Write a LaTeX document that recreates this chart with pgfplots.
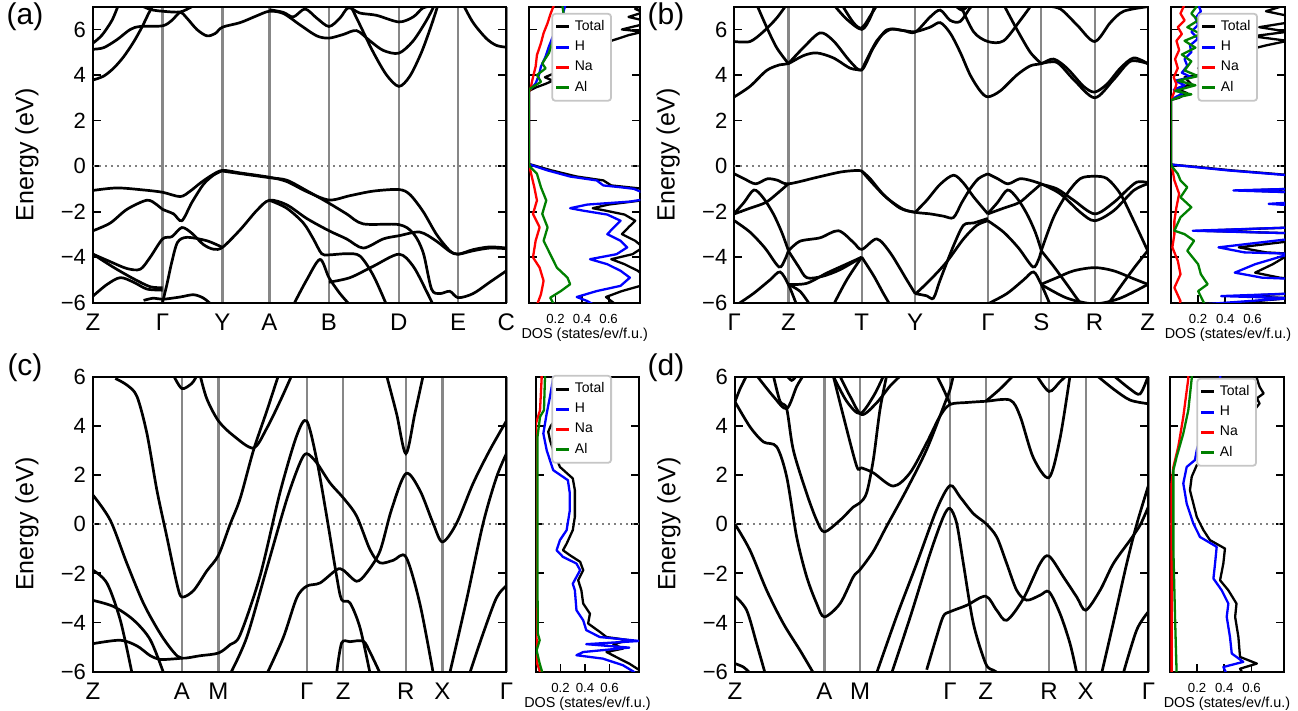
\documentclass[border=0pt]{standalone}
\usepackage{fontspec}
\setmainfont{Liberation Sans}
\usepackage{pgfplots}
\pgfplotsset{compat=1.18}
\definecolor{dgreen}{RGB}{0,128,0}
\definecolor{gridgray}{RGB}{135,135,135}
\pgfplotsset{
  common/.style={scale only axis, anchor=south west, tick align=inside, major tick length=4pt,
    every tick/.append style={black, line width=0.9pt}, axis line style={line width=1pt},
    ytick={-6,-4,-2,0,2,4,6}},
  bandax/.style={common, width=206.7pt, xtick style={draw=none}, xmajorgrids,
    major grid style={gridgray, line width=1.15pt},
    yticklabels={−6,−4,−2,0,2,4,6},
    yticklabel style={font=\fontsize{11}{13}\selectfont},
    xticklabel style={font=\fontsize{12}{14}\selectfont, yshift=-2pt},
    ylabel={Energy (eV)},
    ylabel style={font=\fontsize{12.5}{14}\selectfont, at={(axis description cs:-0.16,0.5)}, anchor=center}},
  dosax/.style={common, xmin=0, xmax=0.84, xtick={0.2,0.4,0.6}, xticklabels={0.2,0.4,0.6},
    xtick pos=left, yticklabels={},
    xticklabel style={font=\fontsize{6.6}{7.5}\selectfont, yshift=-2.3pt},
    xlabel={DOS (states/ev/f.u.)},
    xlabel style={font=\fontsize{7.2}{8}\selectfont, at={(axis description cs:0.5,0)}, anchor=center, yshift=-16pt},
    legend cell align=left,
    legend style={draw=gray!45, line width=0.9pt, rounded corners=1.5pt, fill=white,
      font=\fontsize{7}{8}\selectfont, inner sep=1.3pt, row sep=-0.3pt, anchor=north east},
    legend image code/.code={\draw[#1, line width=1.5pt] (0pt,0pt) -- (6.5pt,0pt);}},
  band/.style={black, line width=1.35pt, smooth, mark=none},
  dos/.style={line width=1.15pt, mark=none, line join=round},
  zero/.style={gray, line width=1pt, dash pattern=on 1pt off 2pt},
}
\begin{document}
\begin{tikzpicture}
\path[use as bounding box] (0,0) rectangle (649pt,355.5pt);
\node[font=\fontsize{15}{17}\selectfont] at (12.5pt,347pt) {(a)};
\node[font=\fontsize{15}{17}\selectfont] at (333pt,347pt) {(b)};
\node[font=\fontsize{15}{17}\selectfont] at (12.5pt,171.5pt) {(c)};
\node[font=\fontsize{15}{17}\selectfont] at (333pt,171.5pt) {(d)};

% ---------------- (a) bands
\begin{axis}[bandax, at={(46.5pt,204.15pt)}, height=148pt, xmin=278, xmax=1520, ymin=-6, ymax=7,
  xtick={278,487,667,808,987,1197,1375,1520}, xticklabels={Z,Γ,Y,A,B,D,E,C}]
\addplot[zero] coordinates {(278,0) (1520,0)};
\addplot[band] coordinates {(278,3.78) (310,3.95) (340,4.3) (370,4.8) (400,5.45) (425,6.1) (445,6.7) (460,7.1)};
\addplot[band] coordinates {(278,5.13) (310,5.2) (350,5.55) (390,6.0) (420,6.13) (487,6.16) (515,6.4) (540,6.75) (560,6.5) (590,6.0) (620,5.72) (645,5.82) (667,6.1) (720,6.3) (770,6.6) (808,6.8) (850,6.7) (900,6.2) (950,5.72) (987,5.62) (1030,5.78) (1070,5.95) (1110,5.5) (1150,5.08) (1197,4.96) (1240,5.5) (1280,6.4) (1305,7.1)};
\addplot[band] coordinates {(278,5.4) (305,5.75) (335,6.4) (355,7.1)};
\addplot[band] coordinates {(415,7.1) (450,6.88) (487,6.8) (540,6.77) (575,7.0) (595,7.1)};
\addplot[band] coordinates {(808,6.87) (850,6.75) (880,6.55) (915,6.9) (950,6.5) (987,6.13) (1020,6.5) (1045,6.95) (1080,6.72) (1130,6.62) (1197,6.33) (1240,6.55) (1270,6.95) (1300,7.02) (1375,7.03)};
\addplot[band] coordinates {(1050,7.1) (1080,6.2) (1120,5.0) (1160,4.0) (1197,3.5) (1230,3.95) (1265,5.0) (1295,6.2) (1315,7.1)};
\addplot[band] coordinates {(1390,7.1) (1420,6.3) (1460,5.6) (1490,5.3) (1520,5.22)};
\addplot[band] coordinates {(278,-1.07) (350,-0.96) (430,-1.05) (487,-1.15) (540,-1.34) (570,-1.1) (600,-0.75) (635,-0.4) (667,-0.19) (720,-0.3) (808,-0.49) (860,-0.68) (920,-1.12) (987,-1.49) (1050,-1.3) (1120,-1.1) (1197,-1.03) (1230,-1.25) (1270,-2.0) (1310,-3.0) (1350,-3.72) (1375,-3.87) (1420,-3.67) (1470,-3.55) (1520,-3.6)};
\addplot[band] coordinates {(667,-0.22) (720,-0.33) (808,-0.51) (860,-0.62) (920,-1.08) (987,-1.63) (1040,-2.1) (1090,-2.54) (1197,-2.57) (1240,-2.95) (1270,-3.8) (1295,-5.4) (1320,-5.6) (1350,-5.5) (1375,-5.78) (1420,-5.6) (1470,-5.1) (1520,-4.6)};
\addplot[band] coordinates {(278,-2.84) (330,-2.5) (380,-1.9) (440,-1.5) (470,-1.7) (487,-1.9) (520,-2.1) (545,-2.4) (575,-1.6) (610,-0.8) (640,-0.4) (667,-0.2)};
\addplot[band] coordinates {(278,-3.87) (330,-4.2) (380,-4.5) (420,-4.53) (450,-4.0) (487,-3.2) (515,-3.1) (545,-2.7) (575,-2.95) (610,-3.45) (640,-3.65) (667,-3.57) (720,-2.8) (770,-1.95) (808,-1.5) (860,-1.7) (920,-2.3) (987,-2.84) (1040,-3.2) (1090,-3.6) (1150,-3.2) (1197,-3.06) (1260,-2.9) (1310,-3.3) (1350,-3.75) (1375,-3.87) (1420,-3.72) (1470,-3.6) (1520,-3.63)};
\addplot[band] coordinates {(485,-6.1) (500,-5.2) (515,-4.2) (532,-3.35) (560,-3.13) (620,-3.28) (667,-3.57)};
\addplot[band] coordinates {(278,-3.87) (340,-4.45) (400,-4.95) (450,-5.3) (487,-5.34)};
\addplot[band] coordinates {(278,-5.71) (320,-5.2) (360,-4.9) (400,-5.1) (440,-5.4) (487,-5.45)};
\addplot[band] coordinates {(430,-5.9) (460,-5.8) (487,-5.85) (540,-5.75) (580,-5.65) (610,-5.8) (635,-6.1)};
\addplot[band] coordinates {(880,-6.1) (920,-5.0) (960,-4.1) (987,-4.9) (1020,-5.6) (1050,-6.1)};
\addplot[band] coordinates {(987,-5.1) (1050,-4.9) (1120,-4.4) (1197,-3.87) (1240,-4.4) (1280,-5.5) (1300,-6.1)};
\addplot[band] coordinates {(808,-1.5) (860,-1.85) (910,-2.5) (940,-3.2) (965,-3.85) (987,-3.9) (1040,-3.85) (1080,-3.95) (1120,-4.8) (1160,-6.1)};
\end{axis}

% ---------------- (a) DOS
\begin{axis}[dosax, at={(264.5pt,204.15pt)}, width=55.75pt, height=148pt, ymin=-6, ymax=7,
  legend style={at={(0.744,0.979)}}]
\addplot[zero, forget plot] coordinates {(0,0) (0.84,0)};
\addplot[dos, black] coordinates {(0.86,7.1) (0.8,6.9) (0.86,6.75) (0.75,6.55) (0.86,6.4) (0.84,6.2) (0.7,6.0) (0.86,5.9) (0.75,5.75) (0.62,5.5) (0.5,5.2) (0.4,4.8) (0.3,4.4) (0.2,4.1) (0.12,3.9) (0.18,3.75) (0.12,3.6) (0.05,3.45) (0,3.3) (0,0.1) (0.02,0.06) (0.17,-0.19) (0.36,-0.46) (0.56,-0.63) (0.62,-0.85) (0.75,-0.93) (0.86,-1.0) (0.86,-1.5) (0.6,-1.69) (0.48,-1.85) (0.58,-1.96) (0.72,-2.13) (0.8,-2.4) (0.75,-2.69) (0.7,-2.99) (0.8,-3.28) (0.86,-3.57) (0.78,-3.87) (0.62,-4.09) (0.72,-4.31) (0.82,-4.6) (0.88,-4.9) (0.84,-5.26) (0.7,-5.49) (0.58,-5.75) (0.62,-5.93) (0.66,-6.1)};
\addlegendentry{Total}
\addplot[dos, blue] coordinates {(0.275,7.1) (0.25,6.57) (0.21,6.13) (0.175,5.62) (0.15,5.25) (0.125,4.81) (0.09,4.37) (0.075,4.0) (0.05,3.63) (0.01,3.37) (0,3.3) (0,0.1) (0.01,0.06) (0.14,-0.19) (0.31,-0.46) (0.51,-0.63) (0.56,-0.85) (0.69,-0.93) (0.79,-1.0) (0.88,-1.22) (0.88,-1.45) (0.76,-1.56) (0.44,-1.69) (0.31,-1.85) (0.41,-1.96) (0.59,-2.13) (0.69,-2.4) (0.64,-2.69) (0.59,-2.99) (0.69,-3.28) (0.74,-3.57) (0.66,-3.87) (0.46,-4.09) (0.59,-4.31) (0.69,-4.6) (0.76,-4.9) (0.69,-5.26) (0.51,-5.49) (0.36,-5.75) (0.44,-5.93) (0.49,-6.1)};
\addlegendentry{H}
\addplot[dos, red] coordinates {(0.19,7.1) (0.16,6.65) (0.14,6.28) (0.11,5.84) (0.09,5.4) (0.06,4.88) (0.05,4.37) (0.025,3.78) (0.01,3.34) (0,3.3) (0,0.1) (0.01,-0.19) (0.04,-0.93) (0.06,-1.51) (0.03,-2.10) (0.08,-2.69) (0.05,-3.28) (0.03,-4.01) (0.08,-4.46) (0.11,-5.04) (0.09,-5.63) (0.06,-6.1)};
\addlegendentry{Na}
\addplot[dos, dgreen] coordinates {(0.25,7.1) (0.26,6.72) (0.24,6.28) (0.21,5.84) (0.175,5.4) (0.15,4.96) (0.1,4.51) (0.125,4.29) (0.06,4.0) (0.09,3.7) (0.01,3.41) (0,3.3) (0,0.1) (0.01,-0.04) (0.06,-0.34) (0.09,-0.93) (0.13,-1.51) (0.10,-2.10) (0.14,-2.69) (0.11,-3.28) (0.16,-3.87) (0.21,-4.46) (0.29,-4.90) (0.31,-5.19) (0.24,-5.49) (0.16,-5.78) (0.19,-6.1)};
\addlegendentry{Al}
\end{axis}

% ---------------- (b) bands
\begin{axis}[bandax, at={(367.15pt,204.15pt)}, height=148pt, xmin=283, xmax=1522, ymin=-6, ymax=7,
  xtick={283,445,665,825,1043,1203,1363,1522}, xticklabels={Γ,Z,T,Y,Γ,S,R,Z}]
\addplot[zero] coordinates {(283,0) (1522,0)};
\addplot[band] coordinates {(283,3.04) (330,3.5) (380,4.2) (420,4.45) (445,4.5) (490,4.85) (530,4.97) (580,4.75) (630,4.3) (665,4.22)};
\addplot[band] coordinates {(445,4.5) (490,5.2) (540,5.85) (580,5.5) (630,4.6) (665,4.22) (700,5.2) (740,5.98) (790,5.95) (825,5.9) (870,6.1) (900,6.3) (930,5.84) (960,5.0) (990,4.0) (1020,3.3) (1043,3.04) (1080,3.3) (1130,4.0) (1170,4.4) (1203,4.5) (1240,4.7) (1280,4.3) (1330,3.5) (1363,3.25) (1400,3.6) (1440,4.3) (1480,4.75) (1522,4.5)};
\addplot[band] coordinates {(665,4.22) (710,5.5) (750,6.0) (790,5.95) (825,5.88) (870,6.55) (900,6.85) (930,6.4) (960,6.35) (990,6.95) (1005,7.1)};
\addplot[band] coordinates {(1203,4.5) (1250,4.55) (1300,3.8) (1363,3.0) (1420,3.8) (1470,4.6) (1522,4.5)};
\addplot[band] coordinates {(283,5.47) (330,5.47) (370,5.9) (410,6.5) (440,7.1)};
\addplot[band] coordinates {(350,7.1) (380,6.1) (410,5.2) (445,4.5)};
\addplot[band] coordinates {(580,7.1) (620,6.45) (665,6.0) (690,6.5) (705,7.1)};
\addplot[band] coordinates {(605,7.1) (640,6.3) (665,6.07) (695,6.7) (712,7.1)};
\addplot[band] coordinates {(960,7.1) (1000,5.9) (1043,5.47) (1090,5.5) (1140,6.4) (1175,7.1)};
\addplot[band] coordinates {(1090,7.1) (1130,6.0) (1170,5.0) (1203,4.5)};
\addplot[band] coordinates {(1210,7.05) (1260,6.9) (1310,6.2) (1363,5.47) (1410,6.3) (1450,6.8) (1522,7.0)};
\addplot[band] coordinates {(945,7.05) (965,6.85) (985,7.05)};
\addplot[band] coordinates {(283,-0.34) (313,-0.56) (347,-0.78) (382,-0.56) (412,-0.62) (445,-0.78) (532,-0.49) (602,-0.26) (652,-0.19) (665,-0.22)};
\addplot[band] coordinates {(283,-2.08) (312,-1.6) (342,-1.05) (370,-1.4) (400,-2.1) (425,-2.9) (445,-3.7)};
\addplot[band] coordinates {(283,-2.1) (330,-1.85) (377,-1.6) (412,-1.2) (445,-0.78)};
\addplot[band] coordinates {(283,-2.4) (330,-2.9) (375,-3.6) (417,-4.43) (435,-4.1) (445,-3.72)};
\addplot[band] coordinates {(445,-3.72) (480,-3.3) (540,-3.15) (595,-2.84) (640,-3.35) (665,-3.66) (710,-3.2) (750,-3.8) (800,-5.0) (825,-5.6)};
\addplot[band] coordinates {(445,-3.72) (475,-4.4) (500,-4.9) (545,-4.85) (600,-4.55) (665,-4.0)};
\addplot[band] coordinates {(665,-4.0) (700,-4.8) (730,-5.6) (750,-6.1)};
\addplot[band] coordinates {(580,-6.1) (620,-5.0) (665,-4.0)};
\addplot[band] coordinates {(445,-5.2) (500,-5.15) (560,-4.7) (620,-4.3) (665,-4.0)};
\addplot[band] coordinates {(445,-5.2) (480,-5.5) (510,-6.1)};
\addplot[band] coordinates {(290,-6.1) (340,-5.6) (390,-5.0) (420,-4.65) (445,-5.2) (470,-6.1)};
\addplot[band] coordinates {(825,-2.03) (860,-1.5) (900,-0.8) (940,-0.4) (970,-0.75) (1000,-1.35) (1043,-2.1)};
\addplot[band] coordinates {(665,-0.22) (700,-0.8) (740,-1.4) (790,-1.9) (825,-2.03)};
\addplot[band] coordinates {(665,-0.22) (690,-0.55) (730,-1.25) (780,-1.85) (825,-2.03) (870,-2.1) (910,-2.2) (940,-2.26) (965,-1.6) (990,-1.0) (1015,-0.55) (1043,-0.34)};
\addplot[band] coordinates {(825,-5.6) (860,-5.7) (880,-5.8) (900,-5.0) (940,-3.5) (970,-2.6) (1000,-2.5) (1043,-2.3)};
\addplot[band] coordinates {(825,-5.63) (870,-5.0) (920,-4.2) (970,-3.2) (1010,-2.6) (1043,-2.4)};
\addplot[band] coordinates {(1043,-0.34) (1073,-0.56) (1103,-0.78) (1138,-0.56) (1168,-0.62) (1203,-0.78)};
\addplot[band] coordinates {(1043,-2.08) (1072,-1.6) (1102,-1.05) (1130,-1.4) (1160,-2.1) (1185,-2.9) (1203,-3.7)};
\addplot[band] coordinates {(1043,-2.1) (1090,-1.85) (1137,-1.6) (1170,-1.2) (1203,-0.78)};
\addplot[band] coordinates {(1043,-2.4) (1090,-2.9) (1135,-3.6) (1178,-4.43) (1195,-4.1) (1203,-3.72)};
\addplot[band] coordinates {(1043,-6.05) (1100,-5.6) (1150,-5.0) (1180,-4.65) (1203,-5.2) (1230,-6.1)};
\addplot[band] coordinates {(1203,-3.72) (1240,-2.25) (1280,-1.22) (1320,-0.55) (1363,-0.45) (1400,-0.55) (1440,-1.22) (1480,-2.4) (1522,-3.72)};
\addplot[band] coordinates {(1203,-0.78) (1260,-1.22) (1320,-2.03) (1363,-2.4) (1420,-1.96) (1480,-1.07) (1522,-0.78)};
\addplot[band] coordinates {(1203,-0.8) (1250,-1.0) (1300,-1.5) (1363,-2.1) (1420,-1.6) (1460,-1.05) (1490,-0.7) (1522,-0.72)};
\addplot[band] coordinates {(1203,-5.19) (1250,-4.9) (1300,-4.6) (1363,-4.46) (1420,-4.6) (1480,-4.95) (1522,-5.19)};
\addplot[band] coordinates {(1203,-3.72) (1240,-4.4) (1280,-5.2) (1320,-6.0) (1340,-6.1)};
\addplot[band] coordinates {(1522,-3.72) (1485,-4.4) (1445,-5.2) (1405,-6.0) (1385,-6.1)};
\addplot[band] coordinates {(1203,-5.2) (1280,-5.8) (1363,-6.05) (1440,-5.8) (1522,-5.2)};
\end{axis}

% ---------------- (b) DOS
\begin{axis}[dosax, at={(585.5pt,204.15pt)}, width=57pt, height=148pt, ymin=-6, ymax=7,
  legend style={at={(0.763,0.979)}}]
\addplot[zero, forget plot] coordinates {(0,0) (0.84,0)};
\addplot[dos, black] coordinates {(0.86,7.1) (0.7,6.8) (0.86,6.6) (0.86,6.3) (0.65,6.1) (0.86,5.9) (0.6,5.7) (0.86,5.5) (0.7,5.3) (0.5,5.0) (0.4,4.6) (0.2,4.3) (0.3,4.1) (0.1,3.9) (0.15,3.6) (0.04,3.4) (0.12,3.2) (0.06,3.0) (0,2.9) (0,0.1) (0.01,0.06) (0.2,-0.04) (0.45,-0.19) (0.7,-0.31) (0.88,-0.4) (0.88,-1.0) (0.55,-1.07) (0.88,-1.15) (0.88,-1.6) (0.78,-1.66) (0.88,-1.72) (0.88,-2.7) (0.22,-2.84) (0.88,-2.95) (0.88,-3.3) (0.5,-3.57) (0.7,-3.79) (0.88,-3.85) (0.75,-4.31) (0.62,-4.68) (0.8,-4.9) (0.88,-4.95) (0.88,-5.6) (0.5,-5.71) (0.88,-5.8) (0.3,-6.1)};
\addlegendentry{Total}
\addplot[dos, blue] coordinates {(0.2,7.1) (0.22,6.8) (0.18,6.5) (0.2,6.2) (0.15,5.9) (0.2,5.6) (0.14,5.3) (0.15,5.0) (0.1,4.7) (0.12,4.4) (0.08,4.1) (0.15,3.9) (0.03,3.75) (0.1,3.55) (0.02,3.35) (0.09,3.2) (0.04,3.05) (0,2.9) (0,0.1) (0.01,0.06) (0.17,-0.04) (0.42,-0.19) (0.67,-0.31) (0.88,-0.41) (0.88,-1.0) (0.46,-1.07) (0.88,-1.15) (0.88,-1.6) (0.72,-1.66) (0.88,-1.72) (0.88,-2.7) (0.16,-2.84) (0.88,-2.95) (0.88,-3.2) (0.35,-3.57) (0.54,-3.79) (0.88,-3.85) (0.62,-4.31) (0.47,-4.68) (0.67,-4.9) (0.88,-4.95) (0.88,-5.6) (0.37,-5.71) (0.88,-5.8) (0.17,-6.1)};
\addlegendentry{H}
\addplot[dos, red] coordinates {(0.1,7.1) (0.07,6.7) (0.1,6.4) (0.05,6.1) (0.08,5.8) (0.04,5.5) (0.06,5.1) (0.03,4.7) (0.05,4.3) (0.02,3.9) (0.04,3.6) (0.02,3.2) (0,2.9) (0,0.1) (0.01,-0.12) (0.025,-0.63) (0.06,-1.22) (0.04,-1.81) (0.025,-2.4) (0.025,-2.99) (0.01,-3.57) (0.05,-4.16) (0.07,-4.75) (0.025,-5.34) (0.07,-5.93) (0.06,-6.1)};
\addlegendentry{Na}
\addplot[dos, dgreen] coordinates {(0.2,7.1) (0.15,6.7) (0.2,6.4) (0.12,6.1) (0.22,5.8) (0.1,5.5) (0.18,5.2) (0.08,4.9) (0.15,4.6) (0.1,4.2) (0.2,3.95) (0.05,3.75) (0.18,3.55) (0.03,3.3) (0.15,3.15) (0.07,3.05) (0,2.9) (0,0.1) (0.01,-0.04) (0.05,-0.34) (0.07,-0.63) (0.12,-0.93) (0.07,-1.37) (0.15,-1.81) (0.07,-2.25) (0.025,-2.84) (0.1,-2.99) (0.17,-3.28) (0.12,-3.72) (0.2,-4.31) (0.22,-4.75) (0.27,-5.19) (0.2,-5.49) (0.25,-6.1)};
\addlegendentry{Al}
\end{axis}

% ---------------- (c) bands
\begin{axis}[bandax, at={(46.5pt,19.65pt)}, height=147.5pt, xmin=278, xmax=1520, ymin=-6, ymax=6,
  xtick={278,545,655,920,1030,1218,1328,1520}, xticklabels={Z,A,M,Γ,Z,R,X,Γ}]
\addplot[zero] coordinates {(278,0) (1520,0)};
\addplot[band] coordinates {(278,1.18) (330,0.16) (380,-1.6) (430,-3.23) (480,-4.45) (520,-5.2) (545,-5.45) (600,-5.35) (655,-5.24) (690,-4.9) (720,-4.5) (780,-2.1) (840,1.3) (890,3.6) (920,4.2) (950,2.63) (980,0.33) (1010,-2.12) (1025,-3.07) (1050,-3.2) (1080,-4.2) (1110,-6.05)};
\addplot[band] coordinates {(345,5.93) (380,5.66) (410,5.2) (440,3.69) (470,1.38) (500,-0.52) (530,-2.42) (545,-2.96) (580,-2.7) (620,-1.9) (655,-1.26) (690,0) (720,1.04) (760,3.0) (800,4.6) (835,6.05)};
\addplot[band] coordinates {(520,6.05) (545,5.52) (575,5.73) (590,6.05)};
\addplot[band] coordinates {(600,6.05) (620,5.1) (655,4.2) (700,3.6) (760,3.1) (800,3.9) (840,5.0) (875,6.05)};
\addplot[band] coordinates {(690,-6.1) (740,-4.6) (800,-1.8) (860,1.0) (900,2.5) (920,2.87) (950,2.5) (990,1.68) (1030,1.07) (1070,0.33) (1110,-1.03) (1140,-1.57) (1180,-1.47) (1218,-1.33) (1260,-3.23) (1300,-6.05)};
\addplot[band] coordinates {(800,-6.1) (850,-4.6) (890,-3.0) (920,-2.52) (960,-2.39) (1010,-1.85) (1030,-1.87) (1070,-2.32) (1100,-1.98) (1140,-1.1) (1175,0.6) (1218,2.06) (1260,1.38) (1300,0.03) (1328,-0.72) (1370,0.03) (1420,1.66) (1470,3.01) (1520,4.2)};
\addplot[band] coordinates {(1010,-6.05) (1025,-4.83) (1050,-4.78) (1090,-4.76) (1110,-5.2) (1140,-6.05)};
\addplot[band] coordinates {(1160,6.05) (1190,4.5) (1218,2.87) (1245,4.5) (1270,6.05)};
\addplot[band] coordinates {(1350,-6.05) (1400,-3.1) (1450,0.03) (1490,1.9) (1520,2.87)};
\addplot[band] coordinates {(1410,-6.05) (1450,-4.45) (1490,-3.0) (1520,-2.5)};
\addplot[band] coordinates {(278,-1.87) (320,-2.4) (360,-3.9) (395,-6.05)};
\addplot[band] coordinates {(278,-3.1) (340,-3.35) (400,-3.9) (450,-4.7) (490,-6.05)};
\addplot[band] coordinates {(278,-4.86) (360,-4.72) (410,-4.95) (450,-5.35) (480,-5.5) (520,-5.48) (545,-5.45)};
\end{axis}

% ---------------- (c) DOS
\begin{axis}[dosax, at={(268pt,19.65pt)}, width=51.5pt, height=147.5pt, ymin=-6, ymax=6,
  legend style={at={(0.738,1.006)}}]
\addplot[zero, forget plot] coordinates {(0,0) (0.84,0)};
\addplot[dos, black] coordinates {(0.5,6.1) (0.4,5.5) (0.3,5.0) (0.2,4.5) (0.12,4.0) (0.10,3.76) (0.114,3.42) (0.14,3.01) (0.195,2.33) (0.30,1.86) (0.317,1.38) (0.317,0.3) (0.30,-0.24) (0.25,-0.79) (0.22,-1.06) (0.276,-1.26) (0.36,-1.53) (0.385,-1.87) (0.344,-2.28) (0.37,-2.69) (0.385,-3.23) (0.44,-3.64) (0.425,-4.04) (0.52,-4.38) (0.575,-4.59) (0.76,-4.72) (0.63,-4.88) (0.71,-5.06) (0.575,-5.2) (0.68,-5.47) (0.76,-5.67) (0.845,-5.94) (0.86,-6.1)};
\addlegendentry{Total}
\addplot[dos, blue] coordinates {(0.14,6.1) (0.14,5.93) (0.114,5.18) (0.087,4.5) (0.06,3.69) (0.087,3.01) (0.14,2.2) (0.26,1.79) (0.276,1.25) (0.276,0.57) (0.25,-0.24) (0.195,-0.65) (0.168,-1.06) (0.22,-1.33) (0.33,-1.6) (0.36,-1.87) (0.30,-2.42) (0.317,-2.69) (0.33,-3.50) (0.385,-3.91) (0.41,-4.31) (0.52,-4.59) (0.845,-4.75) (0.41,-4.88) (0.76,-5.02) (0.385,-5.2) (0.33,-5.33) (0.547,-5.47) (0.71,-5.74) (0.80,-6.01) (0.81,-6.1)};
\addlegendentry{H}
\addplot[dos, red] coordinates {(0.046,6.1) (0.046,5.93) (0.033,4.64) (0.0,4.1) (0.0,-4.5) (0.01,-4.86) (0.0,-5.26) (0.01,-5.67) (0.033,-6.01) (0.035,-6.1)};
\addlegendentry{Na}
\addplot[dos, dgreen] coordinates {(0.073,6.1) (0.073,5.93) (0.065,4.64) (0.033,4.37) (0.012,3.55) (0.012,1.66) (0.012,-2.42) (0.015,-4.45) (0.03,-4.72) (0.005,-5.13) (0.03,-5.67) (0.05,-6.01) (0.052,-6.1)};
\addlegendentry{Al}
\end{axis}

% ---------------- (d) bands
\begin{axis}[bandax, at={(367.5pt,19.65pt)}, height=147.5pt, xmin=285, xmax=1525, ymin=-6, ymax=6,
  xtick={285,553,660,930,1037,1227,1337,1525}, xticklabels={Z,A,M,Γ,Z,R,X,Γ}]
\addplot[zero] coordinates {(285,0) (1525,0)};
\addplot[band] coordinates {(285,0) (330,-1.06) (380,-2.69) (430,-4.04) (480,-5.13) (520,-6.05)};
\addplot[band] coordinates {(285,4.98) (330,3.96) (370,3.35) (410,3.15) (440,1.93) (470,-0.52) (500,-2.14) (530,-3.23) (553,-3.77) (600,-3.23) (640,-2.14) (660,-1.85) (700,-1.1) (740,-0.08) (800,1.41) (860,3.04) (915,4.94) (930,5.48) (940,6.05)};
\addplot[band] coordinates {(285,4.98) (300,5.5) (320,6.05)};
\addplot[band] coordinates {(350,6.05) (400,5.2) (440,4.7) (470,5.6) (490,6.05)};
\addplot[band] coordinates {(400,6.05) (420,5.0) (440,4.7) (460,3.01) (500,1.25) (530,0.16) (553,-0.31) (600,0.16) (640,0.7) (660,0.87) (680,1.28) (700,2.63) (720,4.67) (740,6.05)};
\addplot[band] coordinates {(440,6.05) (455,5.85) (470,6.05)};
\addplot[band] coordinates {(580,6.02) (610,4.4) (650,2.36) (665,2.29) (700,2.09) (760,1.55) (810,2.09) (860,3.31) (900,4.40) (930,4.87) (980,4.95) (1037,5.0) (1110,5.05) (1140,4.4) (1180,2.7) (1227,1.9) (1260,3.5) (1290,6.05)};
\addplot[band] coordinates {(600,6.02) (630,5.21) (665,4.46) (710,4.94) (750,5.62) (780,6.02)};
\addplot[band] coordinates {(580,6.02) (620,5.0) (660,4.5) (700,5.2) (730,6.02)};
\addplot[band] coordinates {(710,-6.05) (770,-3.74) (830,-1.6) (890,0.6) (930,1.57) (960,1.11) (1000,0.43) (1037,0.03) (1070,-0.52) (1100,-1.6) (1130,-2.69) (1160,-3.09) (1200,-2.89) (1227,-2.75) (1260,-3.64) (1290,-4.86) (1310,-6.05)};
\addplot[band] coordinates {(755,-6.05) (810,-3.8) (870,-1.2) (910,0.3) (930,0.64) (950,0.03) (970,-1.6) (1000,-4.04) (1037,-5.67) (1060,-5.94) (1075,-6.05)};
\addplot[band] coordinates {(860,-5.92) (890,-4.56) (910,-3.74) (930,-3.56) (980,-3.30) (1037,-2.93) (1070,-3.5) (1100,-3.91) (1150,-3.03) (1200,-1.6) (1227,-1.3) (1270,-2.14) (1310,-2.96) (1337,-3.5) (1380,-2.69) (1420,-1.6) (1470,-0.65) (1500,-0.04) (1525,0.71)};
\addplot[band] coordinates {(1385,-6.05) (1420,-4.0) (1460,-1.6) (1490,0.0) (1525,1.57)};
\addplot[band] coordinates {(1450,-6.05) (1490,-4.3) (1525,-3.56)};
\addplot[band] coordinates {(1370,6.05) (1420,5.5) (1470,5.05) (1525,4.9)};
\addplot[band] coordinates {(1420,6.05) (1470,5.5) (1500,5.3) (1525,6.05)};
\addplot[band] coordinates {(1190,6.05) (1227,5.4) (1260,5.8) (1280,6.05)};
\addplot[band] coordinates {(1037,5.0) (1080,5.5) (1120,6.05)};
\addplot[band] coordinates {(285,-2.93) (320,-3.5) (350,-4.86) (375,-6.05)};
\addplot[band] coordinates {(285,-5.67) (310,-5.81) (330,-6.05)};
\addplot[band] coordinates {(890,6.05) (910,5.5) (930,4.9)};
\end{axis}

% ---------------- (d) DOS
\begin{axis}[dosax, at={(585pt,19.65pt)}, width=57pt, height=147.5pt, ymin=-6, ymax=6,
  legend style={at={(0.763,0.996)}}]
\addplot[zero, forget plot] coordinates {(0,0) (0.84,0)};
\addplot[dos, black] coordinates {(0.64,6.1) (0.64,5.93) (0.66,5.59) (0.69,5.32) (0.64,5.12) (0.66,4.91) (0.6,4.5) (0.62,3.8) (0.6,3.0) (0.565,2.74) (0.344,2.61) (0.197,2.40) (0.16,1.93) (0.147,1.38) (0.172,0.84) (0.197,0.30) (0.246,-0.24) (0.295,-0.65) (0.405,-0.99) (0.393,-1.6) (0.369,-2.28) (0.43,-2.69) (0.49,-3.23) (0.48,-3.77) (0.504,-4.59) (0.516,-5.40) (0.64,-5.67) (0.516,-5.88) (0.54,-6.1)};
\addlegendentry{Total}
\addplot[dos, blue] coordinates {(0.37,6.1) (0.369,5.93) (0.3,5.0) (0.25,4.0) (0.197,3.01) (0.184,2.61) (0.123,2.33) (0.098,1.66) (0.123,0.84) (0.172,0.03) (0.221,-0.52) (0.344,-0.92) (0.332,-1.6) (0.32,-2.21) (0.381,-2.69) (0.43,-3.23) (0.418,-3.77) (0.442,-4.59) (0.455,-5.26) (0.54,-5.6) (0.393,-5.81) (0.418,-6.1)};
\addlegendentry{H}
\addplot[dos, red] coordinates {(0.135,6.1) (0.135,5.93) (0.098,4.37) (0.061,3.15) (0.025,2.33) (0.012,1.66) (0.012,-6.1)};
\addlegendentry{Na}
\addplot[dos, dgreen] coordinates {(0.16,6.1) (0.16,5.93) (0.135,4.64) (0.098,3.69) (0.049,2.74) (0.025,2.2) (0.025,-1.06) (0.037,-3.77) (0.049,-6.1)};
\addlegendentry{Al}
\end{axis}
\end{tikzpicture}
\end{document}
